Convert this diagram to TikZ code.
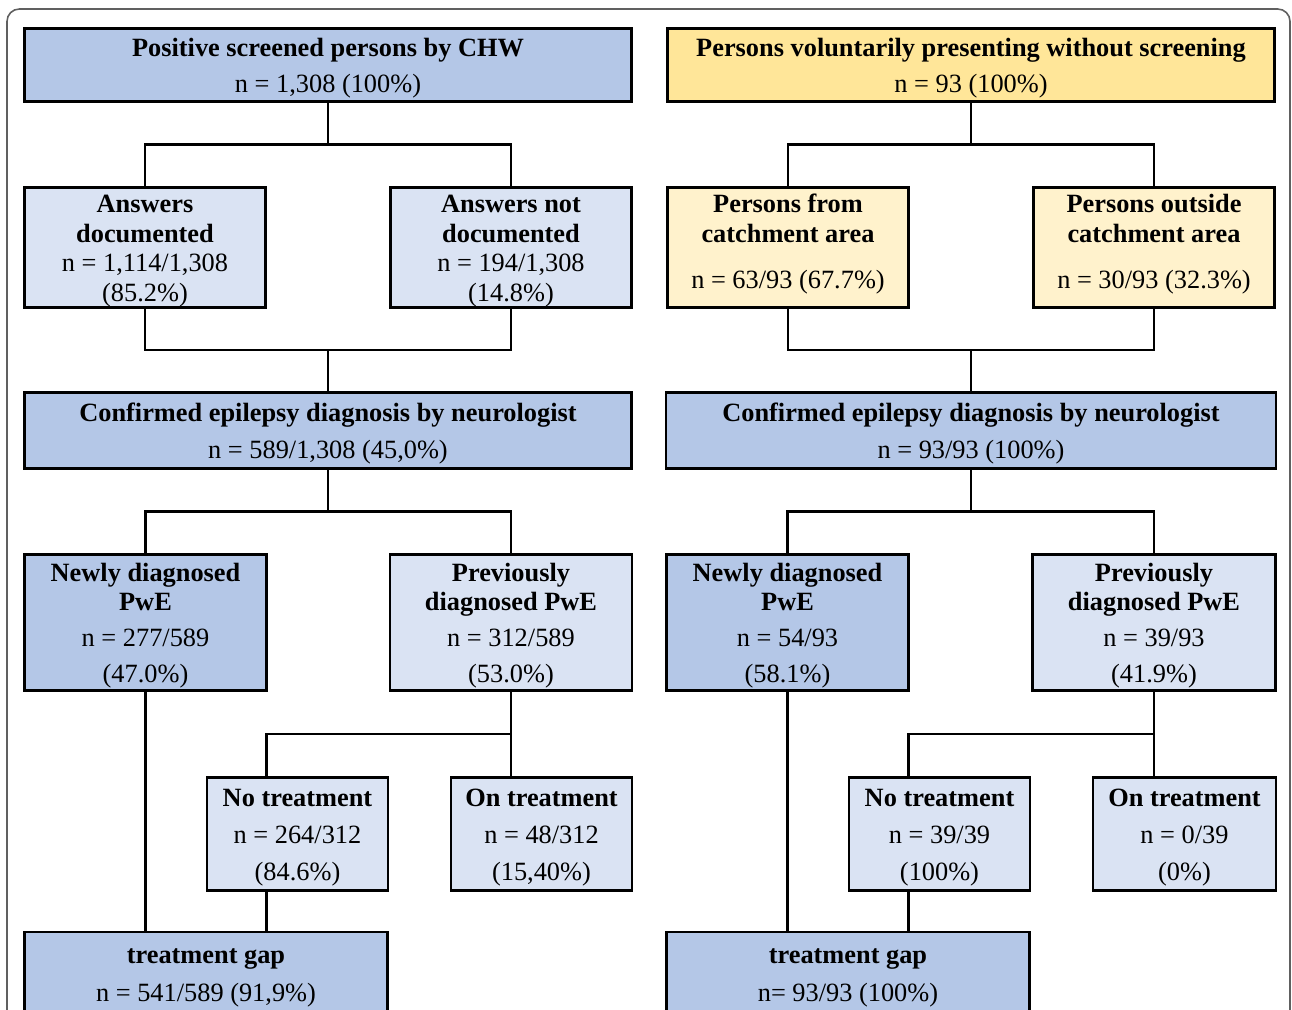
\documentclass[tikz,border=0pt]{standalone}
\usepackage{fontspec}
\setmainfont{Liberation Serif}
\usepackage{tikz}
\usetikzlibrary{positioning,calc}
\definecolor{boxblue}{HTML}{B4C7E7}
\definecolor{paleblue}{HTML}{DAE3F3}
\definecolor{boxgold}{HTML}{FFE699}
\definecolor{palegold}{HTML}{FFF2CC}
\newcommand{\boxhead}[1]{\rule{0pt}{14pt}\textbf{#1}}

\begin{document}
\begin{tikzpicture}
		[x=0.02cm,y=-0.02cm,
		every node/.style={draw=black,line width=1.6pt,align=center,inner sep=0pt,outer sep=0pt,font=\fontsize{15pt}{17pt}\selectfont},
		widebox/.style={minimum width=12.14cm,minimum height=1.46cm},
		pairbox/.style={minimum width=4.82cm,minimum height=2.4cm},
		diagbox/.style={minimum width=4.84cm,minimum height=2.72cm},
		treatbox/.style={minimum width=3.62cm,minimum height=2.26cm},
		gapbox/.style={minimum width=7.26cm,minimum height=1.64cm},
		darkfill/.style={fill=boxblue},
		palefill/.style={fill=paleblue},
		goldfill/.style={fill=boxgold},
		lightgold/.style={fill=palegold},
		link/.style={line width=1.6pt},
		fork/.style={to path={(\tikztostart) |- ($(\tikztostart)!.5!(\tikztotarget)$) -| (\tikztotarget)}}]
		\useasboundingbox (0,0) rectangle (1292,1010);
		\clip (0,0) rectangle (1292,1010);
		\draw[gray!75!black,line width=0.9pt,rounded corners=7pt] (7,9) rectangle (1290,1080);

		\node[widebox,darkfill] (scr) at (328,65) {\boxhead{Positive screened persons by CHW}\\[4pt]n = 1,308 (100\%)};
		\node[pairbox,palefill] (ansdoc) at (145,247.5) {\boxhead{Answers}\\\textbf{documented}\\n = 1,114/1,308\\(85.2\%)};
		\node[pairbox,palefill] (ansnot) at (511,247.5) {\boxhead{Answers not}\\\textbf{documented}\\n = 194/1,308\\(14.8\%)};
		\node[widebox,darkfill,minimum height=1.52cm] (confL) at (328,430.5) {\boxhead{Confirmed epilepsy diagnosis by neurologist}\\[4pt]n = 589/1,308 (45,0\%)};
		\node[diagbox,darkfill] (newL) at (145.5,622.5) {\boxhead{Newly diagnosed}\\\textbf{PwE}\\[3pt]n = 277/589\\[4pt](47.0\%)};
		\node[diagbox,palefill] (prevL) at (511,622.5) {\boxhead{Previously}\\\textbf{diagnosed PwE}\\[3pt]n = 312/589\\[4pt](53.0\%)};
		\node[treatbox,palefill] (notrL) at (297.5,834) {\boxhead{No treatment}\\[4pt]n = 264/312\\[4pt](84.6\%)};
		\node[treatbox,palefill] (ontrL) at (541.5,834) {\boxhead{On treatment}\\[4pt]n = 48/312\\[4pt](15,40\%)};
		\node[gapbox,darkfill] (gapL) at (206,973) {\boxhead{treatment gap}\\[5pt]n = 541/589 (91,9\%)};

		\node[widebox,goldfill] (vol) at (971,65) {\boxhead{Persons voluntarily presenting without screening}\\[4pt]n = 93 (100\%)};
		\node[pairbox,lightgold] (catin) at (788,247.5) {\boxhead{Persons from}\\\textbf{catchment area}\\[9pt]n = 63/93 (67.7\%)\rule[-10.5pt]{0pt}{10.5pt}};
		\node[pairbox,lightgold] (catout) at (1154,247.5) {\boxhead{Persons outside}\\\textbf{catchment area}\\[9pt]n = 30/93 (32.3\%)\rule[-10.5pt]{0pt}{10.5pt}};
		\node[widebox,darkfill,minimum height=1.52cm,minimum width=12.2cm] (confR) at (971,430.5) {\boxhead{Confirmed epilepsy diagnosis by neurologist}\\[4pt]n = 93/93 (100\%)};
		\node[diagbox,darkfill] (newR) at (787.5,622.5) {\boxhead{Newly diagnosed}\\\textbf{PwE}\\[3pt]n = 54/93\\[4pt](58.1\%)};
		\node[diagbox,palefill,minimum width=4.86cm] (prevR) at (1154,622.5) {\boxhead{Previously}\\\textbf{diagnosed PwE}\\[3pt]n = 39/93\\[4pt](41.9\%)};
		\node[treatbox,palefill] (notrR) at (939.5,834) {\boxhead{No treatment}\\[4pt]n = 39/39\\[4pt](100\%)};
		\node[treatbox,palefill,minimum width=3.66cm] (ontrR) at (1184.5,834) {\boxhead{On treatment}\\[4pt]n = 0/39\\[4pt](0\%)};
		\node[gapbox,darkfill] (gapR) at (848,973) {\boxhead{treatment gap}\\[5pt]n= 93/93 (100\%)};

		\coordinate (nlL) at (newL.east |- notrL.north);
		\coordinate (nlR) at (newR.east |- notrR.north);

		\draw[link] (scr.south) to[fork] (ansdoc.north);
		\draw[link] (scr.south) to[fork] (ansnot.north);
		\draw[link] (ansdoc.south) to[fork] (confL.north);
		\draw[link] (ansnot.south) to[fork] (confL.north);
		\draw[link] (confL.south) to[fork] (newL.north);
		\draw[link] (confL.south) to[fork] (prevL.north);
		\draw[link] (prevL.south) to[fork] (nlL);
		\draw[link] (prevL.south) -- (prevL.south |- ontrL.north);
		\draw[link] (newL.south) -- (newL.south |- gapL.north);
		\draw[link] (nlL |- notrL.south) -- (nlL |- gapL.north);

		\draw[link] (vol.south) to[fork] (catin.north);
		\draw[link] (vol.south) to[fork] (catout.north);
		\draw[link] (catin.south) to[fork] (confR.north);
		\draw[link] (catout.south) to[fork] (confR.north);
		\draw[link] (confR.south) to[fork] (newR.north);
		\draw[link] (confR.south) to[fork] (prevR.north);
		\draw[link] (prevR.south) to[fork] (nlR);
		\draw[link] (prevR.south) -- (prevR.south |- ontrR.north);
		\draw[link] (newR.south) -- (newR.south |- gapR.north);
		\draw[link] (nlR |- notrR.south) -- (nlR |- gapR.north);
\end{tikzpicture}
\end{document}
